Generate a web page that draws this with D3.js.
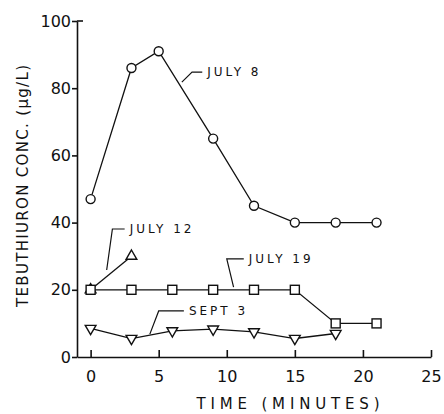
<!DOCTYPE html>
<html>
<meta charset="utf-8">
<head>
    <script src="https://cdnjs.cloudflare.com/ajax/libs/d3/7.8.5/d3.min.js"></script>
</head>
<style>
body {
    margin: 0;
    background: white;
    font-family: "DejaVu Sans", sans-serif;
}
.axis .domain, .axis .tick line {
    stroke: #111;
    stroke-width: 1.6px;
}
.axis .tick text {
    font-size: 16px;
    fill: #111;
    font-family: "DejaVu Sans", sans-serif;
}
.series path.line {
    fill: none;
    stroke: #111;
    stroke-width: 1.3px;
}
.marker {
    fill: white;
    stroke: #111;
    stroke-width: 1.4px;
}
.leader {
    fill: none;
    stroke: #111;
    stroke-width: 1.2px;
}
.label {
    font-size: 12px;
    fill: #111;
    letter-spacing: 3px;
}
.title {
    font-size: 15px;
    fill: #111;
}
</style>

<body>
    <svg id="canvas"></svg>
<script>
// time (minutes) for each sampling
var july8Time  = [0, 3, 5, 9, 12, 15, 18, 21];
var july8Conc  = [47, 86, 91, 65, 45, 40, 40, 40];
var july12Time = [0, 3];
var july12Conc = [20, 30];
var july19Time = [0, 3, 6, 9, 12, 15, 18, 21];
var july19Conc = [20, 20, 20, 20, 20, 20, 10, 10];
var sept3Time  = [0, 3, 6, 9, 12, 15, 18];
var sept3Conc  = [8.5, 5.5, 7.8, 8.3, 7.5, 5.5, 7];

var xTicks = [0, 5, 10, 15, 20, 25];
var yTicks = [0, 20, 40, 60, 80, 100];

// series: name, times, concentrations, marker type
var series = [
    {name: "JULY 8",  t: july8Time,  c: july8Conc,  mark: "circle"},
    {name: "JULY 12", t: july12Time, c: july12Conc, mark: "up"},
    {name: "JULY 19", t: july19Time, c: july19Conc, mark: "square"},
    {name: "SEPT 3",  t: sept3Time,  c: sept3Conc,  mark: "down"}
];

// label leaders in data units: [end on curve, elbow, end of flag], text at flag end
var leaders = [
    {name: "JULY 8",  pts: [[6.7, 81.8], [7.45, 84.8], [8.2, 84.8]]},
    {name: "JULY 12", pts: [[1.18, 25.9], [1.6, 38.1], [2.5, 38.1]]},
    {name: "JULY 19", pts: [[10.5, 20.8], [10.0, 29.2], [11.25, 29.2]]},
    {name: "SEPT 3",  pts: [[4.35, 6.8], [5.0, 13.7], [6.85, 13.7]]}
];

const width = 444, height = 414;
const margin = {top: 21, right: 13, bottom: 57, left: 77};

const svg = d3.select('#canvas')
    .attr('width', width)
    .attr('height', height);

const x = d3.scaleLinear()
    .domain([-1, 25])
    .range([margin.left, width - margin.right]);
const y = d3.scaleLinear()
    .domain([0, 100])
    .range([height - margin.bottom, margin.top]);

// y axis, ticks outside
svg.append('g')
    .classed('axis', true)
    .attr('transform', `translate(${margin.left},0)`)
    .call(d3.axisLeft(y).tickValues(yTicks).tickSize(5).tickSizeOuter(0).tickPadding(1));

// little flag at the top of the y axis
svg.append('line')
    .attr('x1', x(-1)).attr('x2', x(-1) + 6)
    .attr('y1', y(100)).attr('y2', y(100))
    .style('stroke', '#111').style('stroke-width', 1.6);

// x axis, ticks pointing up into the plot
svg.append('g')
    .classed('axis', true)
    .attr('transform', `translate(0,${y(0)})`)
    .call(d3.axisBottom(x).tickValues(xTicks).tickSize(-7).tickSizeOuter(0).tickPadding(14));

// lines and markers
var line = d3.line()
    .x(d => x(d[0]))
    .y(d => y(d[1]));

var tri = d3.symbol().type(d3.symbolTriangle).size(50);

series.forEach(function(s) {
    var pts = s.t.map((t, i) => [t, s.c[i]]);
    var g = svg.append('g').classed('series', true);
    g.append('path')
        .classed('line', true)
        .attr('d', line(pts));
    var m = g.selectAll('.marker').data(pts).enter();
    if (s.mark === "circle") {
        m.append('circle').classed('marker', true)
            .attr('cx', d => x(d[0]))
            .attr('cy', d => y(d[1]))
            .attr('r', 4.5);
    } else if (s.mark === "square") {
        m.append('rect').classed('marker', true)
            .attr('x', d => x(d[0]) - 4.5)
            .attr('y', d => y(d[1]) - 4.5)
            .attr('width', 9)
            .attr('height', 9);
    } else {
        m.append('path').classed('marker', true)
            .attr('d', tri)
            .attr('transform', d => `translate(${x(d[0])},${y(d[1])})` + (s.mark === "down" ? " rotate(180)" : ""));
    }
});

// labels with leader lines
leaders.forEach(function(l) {
    svg.append('path')
        .classed('leader', true)
        .attr('d', d3.line().x(d => x(d[0])).y(d => y(d[1]))(l.pts));
    var end = l.pts[2];
    svg.append('text')
        .classed('label', true)
        .attr('x', x(end[0]) + 5)
        .attr('y', y(end[1]))
        .attr('dy', '0.35em')
        .text(l.name);
});

// axis titles
svg.append('text')
    .classed('title', true)
    .attr('x', 288)
    .attr('y', 404)
    .attr('dy', '0.35em')
    .attr('text-anchor', 'middle')
    .attr('textLength', 183)
    .attr('lengthAdjust', 'spacing')
    .text('TIME (MINUTES)');

svg.append('text')
    .classed('title', true)
    .attr('transform', 'translate(23,186) rotate(-90)')
    .attr('dy', '0.35em')
    .attr('text-anchor', 'middle')
    .attr('textLength', 242)
    .attr('lengthAdjust', 'spacing')
    .text('TEBUTHIURON CONC. (\u00b5g/L)');
</script>

</body>
</html>
